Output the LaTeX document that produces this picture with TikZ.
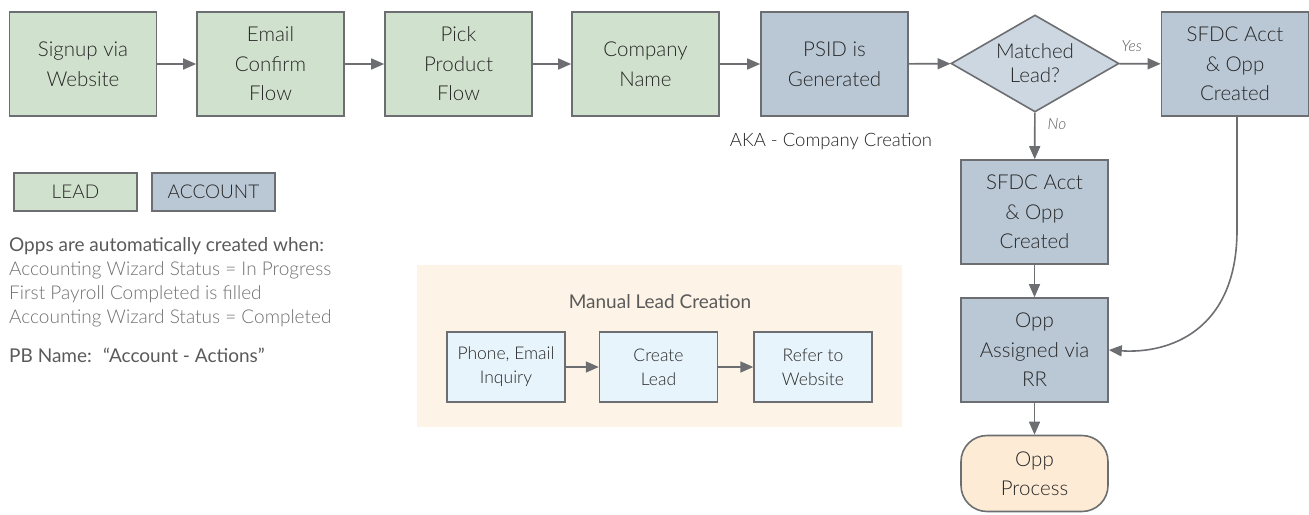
\documentclass[tikz,border=0pt]{standalone}
\usepackage{fontspec}
\IfFontExistsTF{Lato Light}{\setmainfont{Lato Light}[BoldFont=Lato]}{\setmainfont{Lato}}
\usetikzlibrary{arrows.meta,shapes.geometric}
\definecolor{lead}{HTML}{D0E2CD}
\definecolor{acct}{HTML}{BAC8D6}
\definecolor{dia}{HTML}{CCD7E1}
\definecolor{edge}{HTML}{6D6E71}
\definecolor{txt}{HTML}{262626}
\definecolor{gtxt}{HTML}{707070}
\definecolor{dtxt}{HTML}{5A5A5A}
\definecolor{peach}{HTML}{FDF3E7}
\definecolor{lblue}{HTML}{E8F4FB}
\definecolor{opp}{HTML}{FDEBD5}
\tikzset{
  box/.style={draw=edge,line width=1.6pt,minimum width=147pt,minimum height=104pt,align=center,text=txt,font=\fontsize{20.5}{29.5}\selectfont,inner sep=0pt},
  leadbox/.style={box,fill=lead},
  acctbox/.style={box,fill=acct},
  smallbox/.style={draw=edge,line width=1.4pt,minimum width=118pt,minimum height=70pt,align=center,text=txt,font=\fontsize{17.5}{24}\selectfont,inner sep=0pt,fill=lblue},
  legend/.style={draw=edge,line width=1.4pt,minimum width=123pt,minimum height=38pt,text=txt,font=\fontsize{19}{20}\selectfont,inner sep=0pt},
  conn/.style={draw=edge,line width=1.6pt,-{Triangle[length=13pt,width=11pt]}},
  note/.style={text=gtxt,font=\fontsize{19}{20}\selectfont,anchor=west,inner sep=0pt},
  lbl/.style={text=dtxt,font=\fontsize{15.5}{17}\itshape\selectfont,inner sep=0pt}
}
\begin{document}
\begin{tikzpicture}[x=1pt,y=-1pt]
\useasboundingbox (0,0) rectangle (1309,514);
% manual lead area
\fill[peach] (417,265) rectangle (902,427);
\node[text=dtxt,font=\fontsize{19}{20}\bfseries\selectfont] (mtitle) at (660,302) {Manual Lead Creation};
\node[smallbox] (phone) at (506,367) {Phone, Email\\Inquiry};
\node[smallbox] (create) at (658.5,367) {Create\\Lead};
\node[smallbox] (refer) at (813,367) {Refer to\\Website};
\draw[conn] (phone) -- (create);
\draw[conn] (create) -- (refer);
% top row
\node[leadbox] (signup) at (83,64) {Signup via\\Website};
\node[leadbox] (email) at (270.5,64) {Email\\Confirm\\Flow};
\node[leadbox] (pick) at (458.5,64) {Pick\\Product\\Flow};
\node[leadbox] (company) at (645.5,64) {Company\\Name};
\node[acctbox] (psid) at (834.5,64) {PSID is\\Generated};
\node[draw=edge,line width=1.6pt,fill=dia,diamond,minimum width=168pt,minimum height=97pt,inner sep=0pt,aspect=1.73,align=center,text=txt,font=\fontsize{20.5}{24}\selectfont] (match) at (1035,63.5) {Matched\\Lead?};
\node[acctbox] (sfdc1) at (1235,64) {SFDC Acct\\\& Opp\\Created};
\node[acctbox] (sfdc2) at (1034.5,212) {SFDC Acct\\\& Opp\\Created};
\node[acctbox] (assign) at (1034.5,350) {Opp\\Assigned via\\RR};
\node[draw=edge,line width=1.6pt,fill=opp,rounded corners=26pt,minimum width=147pt,minimum height=76pt,align=center,text=txt,font=\fontsize{20.5}{29.5}\selectfont,inner sep=0pt] (process) at (1034.5,473.5) {Opp\\Process};
\node[text=txt,font=\fontsize{18.5}{20}\selectfont] (aka) at (831,141) {AKA - Company Creation};
\draw[conn] (signup) -- (email);
\draw[conn] (email) -- (pick);
\draw[conn] (pick) -- (company);
\draw[conn] (company) -- (psid);
\draw[conn] (psid) -- (match);
\draw[conn] (match) -- node[lbl,pos=0.3,above=11pt] (yes) {Yes} (sfdc1);
\draw[conn] (match) -- node[lbl,pos=0.25,right=12pt] (no) {No} (sfdc2);
\draw[conn] (sfdc2) -- (assign);
\draw[conn] (assign) -- (process);
\coordinate (bend) at (1237,230);
\draw[conn] (sfdc1.south -| bend) -- (bend) .. controls (1237,330) and (1170,354) .. (assign.east);
% legend
\node[legend,fill=lead] (lg1) at (75.5,192) {LEAD};
\node[legend,fill=acct] (lg2) at (213.5,192) {ACCOUNT};
% notes
\node[note,text=dtxt,font=\fontsize{19}{20}\bfseries\selectfont] (n0) at (9,246) {Opps are automatically created when:};
\node[note] (n1) at (9,270) {Accounting Wizard Status = In Progress};
\node[note] (n2) at (9,294) {First Payroll Completed is filled};
\node[note] (n3) at (9,318) {Accounting Wizard Status = Completed};
\node[note,text=dtxt,font=\fontsize{19}{20}\bfseries\selectfont] (n4) at (9,355) {PB Name:~ “Account - Actions”};
\end{tikzpicture}
\end{document}
